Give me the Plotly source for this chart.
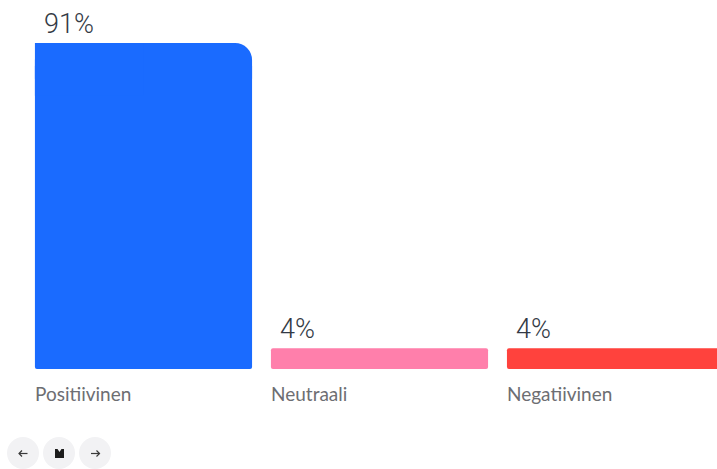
import plotly.graph_objects as go

categories = ["Positiivinen", "Neutraali", "Negatiivinen"]
values = [91, 4, 4]
value_labels = ["91%", "4%", "4%"]
colors = ["#1a6bff", "#ff7fab", "#ff423d"]

W, H = 717, 469
AXIS_FLOOR = -1.85
Y_RANGE = [-30.37, 103.25]
X_RANGE = [-0.608, 2.430]
BAR_WIDTH = 0.92
CAP_DEPTH = 15  # axis units given to the rounded cap of the tallest bar
BODY_GAP = 6    # axis units between the bar body and the top of the tallest bar
LABEL_FONT = "Lato"
VALUE_FONT = "Roboto"

fig = go.Figure()


def add_segment(x, bottom, top, width, color, radius):
    fig.add_trace(go.Bar(
        x=[x], y=[top - bottom], base=bottom, width=width,
        marker=dict(color=color, cornerradius=radius, line_width=0),
        showlegend=False, hoverinfo="skip",
    ))


for i, (value, color) in enumerate(zip(values, colors)):
    if value > 50:
        # Tall bar: large radius on the top-right corner only, small at the foot
        add_segment(i, value - CAP_DEPTH, value, BAR_WIDTH, color, 17)
        add_segment(i, AXIS_FLOOR, value - BODY_GAP, BAR_WIDTH, color, 2)
        add_segment(i - BAR_WIDTH / 4, value - CAP_DEPTH, value, BAR_WIDTH / 2, color, 0)
    else:
        add_segment(i, AXIS_FLOOR, value, BAR_WIDTH, color, 2)

annotations = []
for i, (name, value, label) in enumerate(zip(categories, values, value_labels)):
    left = i - BAR_WIDTH / 2
    annotations.append(dict(
        x=left, y=value, xref="x", yref="y", text=label, showarrow=False,
        xanchor="left", yanchor="bottom", xshift=7, yshift=1,
        font=dict(family=VALUE_FONT, size=27, color="#333a45", weight=300),
    ))
    annotations.append(dict(
        x=left, y=AXIS_FLOOR, xref="x", yref="y", text=name, showarrow=False,
        xanchor="left", yanchor="top", xshift=-2, yshift=-11,
        font=dict(family=LABEL_FONT, size=19, color="#6d6e72", weight=400),
    ))


def px(x):
    return x / W


def py(y):
    return 1 - y / H


# Navigation buttons beneath the chart
shapes = []
for cx in (23, 59, 95):
    shapes.append(dict(
        type="circle", xref="paper", yref="paper", layer="below", line_width=0,
        fillcolor="#f2f2f4",
        x0=px(cx - 16), x1=px(cx + 16), y0=py(453 + 16), y1=py(453 - 16),
    ))


def arrow_path(points):
    return "M " + " L ".join(f"{px(x):.5f},{py(y):.5f}" for x, y in points)


arrow_line = dict(color="#3a3a3a", width=1.2)
shapes += [
    dict(type="path", xref="paper", yref="paper", line=arrow_line,
         path=arrow_path([(27.5, 453.5), (19, 453.5)])),
    dict(type="path", xref="paper", yref="paper", line=arrow_line,
         path=arrow_path([(22, 450.5), (19, 453.5), (22, 456.5)])),
    dict(type="path", xref="paper", yref="paper", line=arrow_line,
         path=arrow_path([(91, 453.5), (99.5, 453.5)])),
    dict(type="path", xref="paper", yref="paper", line=arrow_line,
         path=arrow_path([(96.5, 450.5), (99.5, 453.5), (96.5, 456.5)])),
    dict(type="path", xref="paper", yref="paper", line_width=0, fillcolor="#1c1c1c",
         path=arrow_path([(55, 449), (57.5, 449), (59.5, 452), (61.5, 449), (64, 449),
                          (64, 458), (55, 458)]) + " Z"),
]

fig.update_layout(
    width=W, height=H, autosize=False,
    margin=dict(l=0, r=0, t=0, b=0),
    paper_bgcolor="white", plot_bgcolor="white",
    barmode="overlay", showlegend=False,
    xaxis=dict(range=X_RANGE, visible=False, fixedrange=True),
    yaxis=dict(range=Y_RANGE, visible=False, fixedrange=True),
    annotations=annotations, shapes=shapes,
)

fig.write_html("out.html", config={"displayModeBar": False})
